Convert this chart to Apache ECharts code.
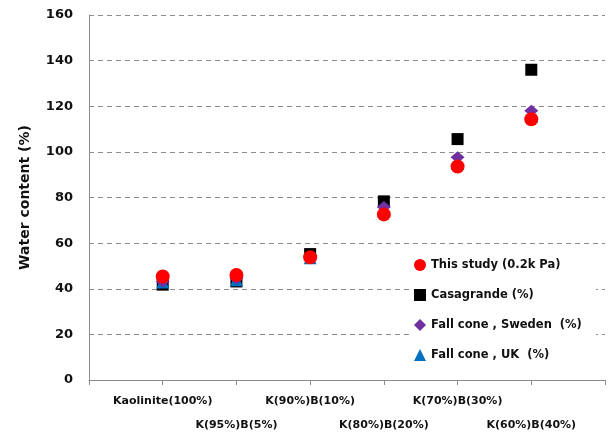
<!DOCTYPE html>
<html>
<head>
<meta charset="utf-8">
<script src="https://cdn.jsdelivr.net/npm/echarts@6/dist/echarts.min.js"></script>
<style>html,body{margin:0;padding:0;background:#fff}#c{width:612px;height:432px}</style>
</head>
<body>
<div id="c"></div>
<script>
var categories = ['', 'Kaolinite(100%)', 'K(95%)B(5%)', 'K(90%)B(10%)', 'K(80%)B(20%)', 'K(70%)B(30%)', 'K(60%)B(40%)', ''];
var thisStudy = [null, 45.4, 46.0, 53.8, 72.6, 93.6, 114.3, null];
var casagrande = [null, 41.8, 43.2, 55.2, 78.3, 105.6, 136.0, null];
var fallConeSweden = [null, 43.2, 44.5, 54.2, 75.8, 97.6, 118.0, null];
var fallConeUK = [null, 43.0, 44.0, 53.6, 74.2, 95.0, 115.5, null];
var yTicks = [0, 20, 40, 60, 80, 100, 120, 140, 160];

var chart = echarts.init(document.getElementById('c'));
var font = 'DejaVu Sans';
chart.setOption({
  animation: false,
  backgroundColor: '#fff',
  grid: { left: 89, right: 7, top: 15, bottom: 52, containLabel: false, outerBoundsMode: 'none' },
  xAxis: {
    type: 'category',
    data: categories,
    boundaryGap: false,
    axisLine: { lineStyle: { color: '#8c8c8c', width: 1 } },
    axisTick: { show: true, interval: 0, length: 5, lineStyle: { color: '#8c8c8c' } },
    axisLabel: {
      interval: 0,
      margin: 9,
      lineHeight: 24,
      fontFamily: font,
      fontWeight: 'bold',
      fontSize: 11,
      color: '#111',
      formatter: function (v, i) { return (i % 2 === 0) ? '\n' + v : v; }
    },
    splitLine: { show: false }
  },
  yAxis: {
    type: 'value',
    min: yTicks[0],
    max: yTicks[yTicks.length - 1],
    interval: 20,
    name: 'Water content (%)',
    nameLocation: 'middle',
    nameGap: 57,
    nameTextStyle: { fontFamily: font, fontWeight: 'bold', fontSize: 14, color: '#111' },
    axisLine: { show: true, lineStyle: { color: '#8c8c8c', width: 1 } },
    axisTick: { show: false },
    axisLabel: { fontFamily: font, fontWeight: 'bold', fontSize: 13, color: '#111', margin: 16 },
    splitLine: { show: true, lineStyle: { color: '#8c8c8c', type: [5, 4], width: 1 } }
  },
  legend: {
    orient: 'vertical',
    left: 410,
    top: 256,
    itemWidth: 12,
    itemHeight: 12,
    itemGap: 18,
    padding: [3, 14, 3, 4],
    backgroundColor: '#fff',
    textStyle: { fontFamily: font, fontWeight: 'bold', fontSize: 11.5, color: '#111' },
    data: [
      { name: 'This study (0.2k Pa)', icon: 'circle' },
      { name: 'Casagrande (%)', icon: 'rect' },
      { name: 'Fall cone , Sweden  (%)', icon: 'diamond' },
      { name: 'Fall cone , UK  (%)', icon: 'triangle' }
    ]
  },
  series: [
    { name: 'Casagrande (%)', type: 'scatter', symbol: 'rect', symbolSize: 12, z: 2,
      itemStyle: { color: '#000', opacity: 1 }, data: casagrande },
    { name: 'Fall cone , UK  (%)', type: 'scatter', symbol: 'triangle', symbolSize: 13, z: 3,
      itemStyle: { color: '#0070C0', opacity: 1 }, data: fallConeUK },
    { name: 'Fall cone , Sweden  (%)', type: 'scatter', symbol: 'diamond', symbolSize: [14, 12], z: 4,
      itemStyle: { color: '#7030A0', opacity: 1 }, data: fallConeSweden },
    { name: 'This study (0.2k Pa)', type: 'scatter', symbol: 'circle', symbolSize: 14, z: 5,
      itemStyle: { color: '#FF0000', opacity: 1 }, data: thisStudy }
  ]
});
</script>
</body>
</html>
